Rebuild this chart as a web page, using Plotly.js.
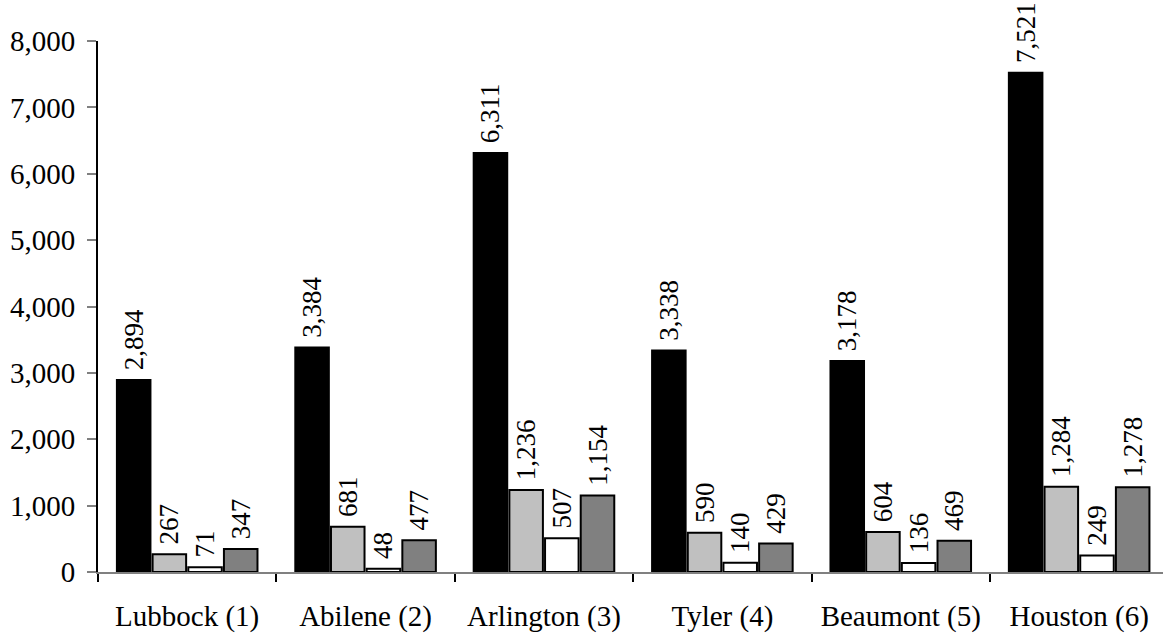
<!DOCTYPE html>
<html>
<head>
<meta charset="utf-8">
<script src="https://cdn.plot.ly/plotly-3.0.1.min.js"></script>
<style>html,body{margin:0;padding:0;background:#fff;}#chart{width:1163px;height:634px;}</style>
</head>
<body>
<div id="chart"></div>
<script>
var categories = ["Lubbock (1)", "Abilene (2)", "Arlington (3)", "Tyler (4)", "Beaumont (5)", "Houston (6)"];
var series1 = [2894, 3384, 6311, 3338, 3178, 7521];
var series2 = [267, 681, 1236, 590, 604, 1284];
var series3 = [71, 48, 507, 140, 136, 249];
var series4 = [347, 477, 1154, 429, 469, 1278];
var seriesColors = ["#000000", "#c0c0c0", "#ffffff", "#808080"];
var yTickVals = [0, 1000, 2000, 3000, 4000, 5000, 6000, 7000, 8000];

var font = "'Liberation Serif', 'Times New Roman', serif";
var allSeries = [series1, series2, series3, series4];
var traces = allSeries.map(function (vals, i) {
  return {
    type: "bar",
    x: categories,
    y: vals,
    marker: {color: seriesColors[i], line: {color: "#000000", width: 2}},
    texttemplate: "\u00a0%{y:,}",
    textposition: "outside",
    textangle: -90,
    constraintext: "none",
    textfont: {family: font, size: 27, color: "#000000"},
    cliponaxis: false,
    hoverinfo: "none",
    showlegend: false
  };
});

var layout = {
  width: 1163,
  height: 634,
  margin: {l: 98, r: 0, t: 41, b: 62},
  paper_bgcolor: "#ffffff",
  plot_bgcolor: "#ffffff",
  barmode: "group",
  bargap: 0.2,
  bargroupgap: 0.06,
  showlegend: false,
  font: {family: font, size: 28, color: "#000000"},
  xaxis: {
    type: "category",
    range: [-0.5, 5.47],
    showgrid: false,
    zeroline: false,
    showline: true,
    linecolor: "#808080",
    linewidth: 2,
    ticks: "outside",
    tickson: "boundaries",
    ticklen: 8,
    tickwidth: 2,
    tickcolor: "#000000",
    ticklabelstandoff: 17,
    tickfont: {family: font, size: 29, color: "#000000"}
  },
  yaxis: {
    range: [0, 8000],
    tickvals: yTickVals,
    tickformat: ",",
    showgrid: false,
    zeroline: false,
    showline: true,
    linecolor: "#000000",
    linewidth: 2,
    ticks: "outside",
    ticklen: 9,
    tickwidth: 2,
    tickcolor: "#808080",
    ticklabelstandoff: 6,
    tickfont: {family: font, size: 29, color: "#000000"}
  }
};

Plotly.newPlot("chart", traces, layout, {staticPlot: true, displayModeBar: false});
</script>
</body>
</html>
